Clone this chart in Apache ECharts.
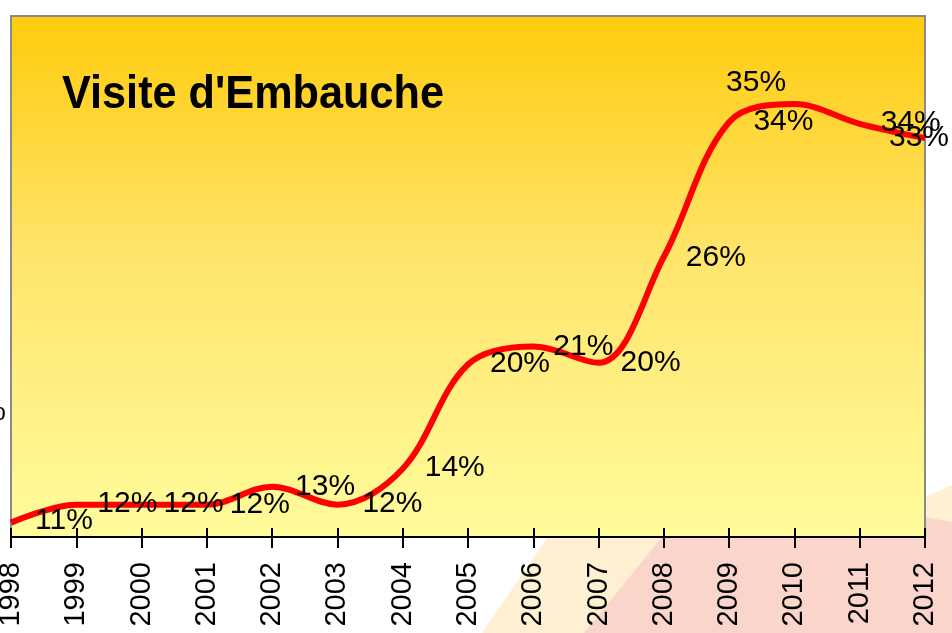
<!DOCTYPE html>
<html>
<head>
<meta charset="utf-8">
<script src="https://cdn.jsdelivr.net/npm/echarts@6/dist/echarts.min.js"></script>
<style>
html,body{margin:0;padding:0;background:#fff;}
#c{width:952px;height:633px;}
</style>
</head>
<body>
<div id="c"></div>
<script>
const years = ['1998','1999','2000','2001','2002','2003','2004','2005','2006','2007','2008','2009','2010','2011','2012'];
const values = [11, 12, 12, 12, 13, 12, 14, 19.8, 20.8, 19.9, 25.8, 33.3, 34.3, 33.2, 32.4];
const labelTexts = ['11%','12%','12%','12%','13%','12%','14%','20%','21%','20%','26%','35%','34%','34%','33%'];
const labelOffsets = [[53,-2],[51,-1],[52,-1],[53,0],[53,0],[55,-1],[52,-1],[52,-1],[50,0],[52,0],[52,1],[27,-39],[-11,18],[51,-1],[-6,0]];
const titleText = "Visite d'Embauche";

const chart = echarts.init(document.getElementById('c'), null, {renderer:'canvas'});
const FONT = '"Liberation Sans", Arial, sans-serif';

const seriesData = values.map((v,i)=>({
  value: v,
  label: {
    formatter: labelTexts[i],
    offset: labelOffsets[i]
  }
}));

chart.setOption({
  animation: false,
  backgroundColor: '#ffffff',
  grid: {
    left: 11, right: 27, top: 16, bottom: 96,
    containLabel: false,
    outerBoundsMode: 'none',
    show: true,
    borderColor: '#8a8a8a',
    borderWidth: 2,
    backgroundColor: new echarts.graphic.LinearGradient(0,0,0,1,[
      {offset:0, color:'#FFCB0C'},
      {offset:0.45, color:'#FFE46A'},
      {offset:1, color:'#FFFC9C'}
    ])
  },
  xAxis: [{
    type: 'category',
    data: years,
    boundaryGap: false,
    axisLine: {show:true, lineStyle:{color:'#000', width:2}},
    axisTick: {show:true, inside:false, length:11, lineStyle:{color:'#000', width:2}},
    axisLabel: {rotate:90, margin:25, color:'#000', fontSize:29, fontFamily:FONT, interval:0},
    splitLine: {show:false}
  },{
    type: 'category',
    data: years,
    position: 'bottom',
    boundaryGap: false,
    axisLine: {show:false},
    axisTick: {show:true, inside:true, length:9, lineStyle:{color:'#000', width:2}},
    axisLabel: {show:false},
    splitLine: {show:false}
  }],
  yAxis: {
    type: 'value',
    min: 10.2, max: 39.2,
    show: false,
    splitLine: {show:false}
  },
  graphic: {
    elements: [
      {type:'polygon', z:-10, shape:{points:[[482,633],[548,537],[700,500],[925,497],[952,485],[952,633]]}, style:{fill:'#FEF0D0'}},
      {type:'polygon', z:-9, shape:{points:[[584,633],[662,537],[925,517],[952,522],[952,633]]}, style:{fill:'#F9D5CB'}},
      {type:'text', z:10, x:62, y:95, scaleX:0.92, style:{text:titleText, font:'bold 47px '+FONT, fill:'#000', verticalAlign:'middle', align:'left'}},
      {type:'text', z:10, x:6, y:412, style:{text:'%', font:'30px '+FONT, fill:'#000', verticalAlign:'middle', align:'right'}}
    ]
  },
  series: [{
    type: 'line',
    data: seriesData,
    smooth: 0.35,
    symbol: 'circle',
    symbolSize: 1,
    itemStyle: {color:'rgba(0,0,0,0)', borderWidth:0},
    lineStyle: {color:'#FF0000', width:6},
    label: {
      show: true,
      position: 'inside',
      color: '#000',
      fontSize: 30,
      fontFamily: FONT,
      align: 'center',
      verticalAlign: 'middle'
    },
    z: 5
  }]
});
</script>
</body>
</html>
